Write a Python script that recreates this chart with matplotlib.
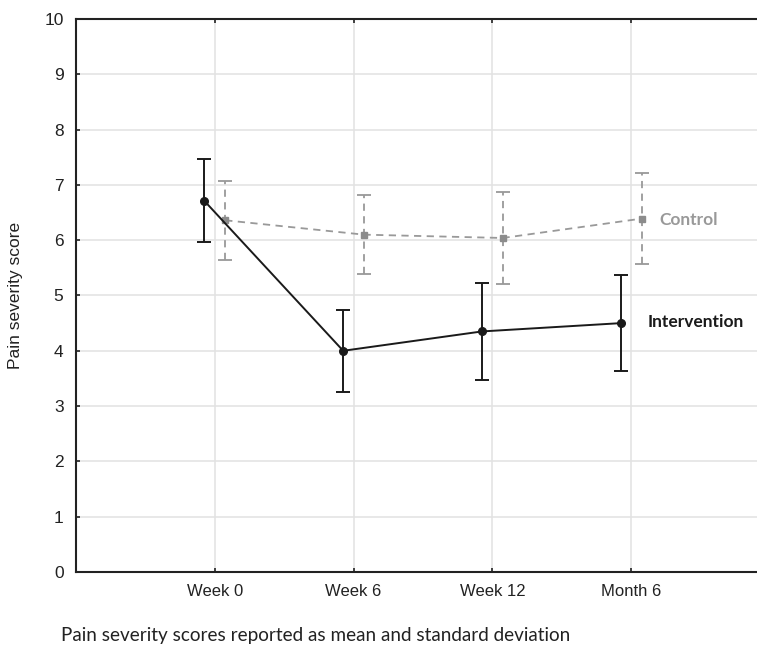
import numpy as np
import matplotlib
matplotlib.use('Agg')
import matplotlib.pyplot as plt

# data
timepoints = ['Week 0', 'Week 6', 'Week 12', 'Month 6']
intervention_mean = [6.71, 4.00, 4.35, 4.50]
intervention_sd = [0.75, 0.74, 0.87, 0.87]
control_mean = [6.36, 6.10, 6.04, 6.39]
control_sd = [0.71, 0.71, 0.83, 0.82]

plt.rcParams['font.family'] = ['Liberation Sans', 'DejaVu Sans']

fig = plt.figure(figsize=(7.57, 6.48), dpi=100)
ax = fig.add_axes([0.1004, 0.1173, 0.9168, 0.8534])

x = np.arange(len(timepoints))
offset = 0.075

# control group (grey, dashed)
ctl = ax.errorbar(x + offset, control_mean, yerr=control_sd, color='#999999',
                  ecolor='#999999', linestyle=(0, (4, 3)), linewidth=1.3,
                  marker='s', markersize=5, markeredgecolor='#8c8c8c',
                  markerfacecolor='#8c8c8c', capsize=5, capthick=1.3,
                  elinewidth=1.3, zorder=3)
ctl[2][0].set_linestyle((0, (4, 3)))

# intervention group (black, solid)
ax.errorbar(x - offset, intervention_mean, yerr=intervention_sd, color='#1a1a1a',
            ecolor='#1a1a1a', linewidth=1.4, marker='o', markersize=5.5,
            capsize=5, capthick=1.4, elinewidth=1.4, zorder=4)

ax.text(x[-1] + 0.20, control_mean[-1] - 0.03, 'Control', color='#999999',
        fontsize=12.5, fontweight='bold', family=['Lato', 'DejaVu Sans'],
        va='center', ha='left')
ax.text(x[-1] + 0.12, intervention_mean[-1] + 0.02, 'Intervention', color='#1a1a1a',
        fontsize=12.5, fontweight='bold', family=['Lato', 'DejaVu Sans'],
        va='center', ha='left')

ax.set_xlim(-1, 4)
ax.set_ylim(0, 10)
ax.set_xticks(x)
ax.set_xticklabels(timepoints, fontsize=12, color='#222222')
ax.set_yticks(range(0, 11))
ax.set_yticklabels([str(v) for v in range(0, 11)], fontsize=12.5, color='#222222')
ax.tick_params(axis='x', direction='in', length=3, width=1.2, color='#222222',
               top=True, pad=9)
ax.tick_params(axis='y', direction='in', length=3, width=1.2, color='#222222', pad=9)
ax.grid(True, color='#e2e2e2', linewidth=1.1, zorder=0)
ax.set_axisbelow(True)

for s in ['left', 'bottom', 'top']:
    ax.spines[s].set_linewidth(1.5)
    ax.spines[s].set_color('#222222')
ax.spines['right'].set_visible(False)

ax.set_ylabel('Pain severity score', fontsize=12.5, color='#222222')
ax.yaxis.set_label_coords(-0.077, 0.5)

fig.text(0.081, 0.006, 'Pain severity scores reported as mean and standard deviation',
         fontsize=13.6, family=['Lato', 'DejaVu Sans'], color='#222222', va='bottom')

fig.savefig('out.png', dpi=100)
